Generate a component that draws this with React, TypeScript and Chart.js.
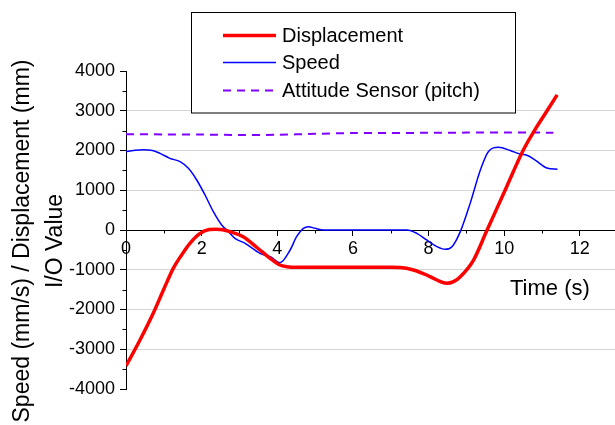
import React, { useEffect, useRef } from "react";
import { Chart, registerables } from "chart.js";

Chart.register(...registerables);

// ---- data ----
const timeDisp = [0, 0.37, 0.72, 0.99, 1.25, 1.47, 1.69, 1.96, 2.2, 2.38, 2.56, 2.75, 3.1, 3.46, 3.81, 4.07, 4.25, 4.5, 5, 6, 7, 7.25, 7.6, 7.95, 8.22, 8.48, 8.66, 8.84, 9.19, 9.53, 10.0, 10.5, 10.78, 11.1, 11.4];
const displacement = [-3420, -2767, -2096, -1509, -964, -629, -335, -84, 12, 22, 8, -42, -168, -440, -712, -880, -922, -940, -940, -940, -940, -945, -1006, -1132, -1258, -1342, -1300, -1174, -755, -40, 950, 2000, 2470, 2950, 3400];

const timeSpeed = [0, 0.2, 0.45, 0.7, 0.9, 1.16, 1.43, 1.65, 1.87, 2.09, 2.31, 2.53, 2.71, 2.88, 3.15, 3.54, 3.83, 4.07, 4.34, 4.51, 4.69, 4.82, 5.0, 5.22, 6, 7, 7.43, 7.69, 7.95, 8.22, 8.44, 8.62, 8.84, 9.1, 9.37, 9.58, 9.85, 10.16, 10.42, 10.6, 10.82, 11.13, 11.41];
const speed = [1970, 2000, 2022, 2000, 1929, 1803, 1719, 1551, 1258, 880, 461, 126, -42, -210, -335, -587, -680, -822, -503, -168, 42, 84, 42, 0, 0, 0, 0, -84, -250, -420, -486, -420, -40, 670, 1510, 1970, 2080, 2000, 1910, 1880, 1760, 1560, 1530];

const timePitch = [0, 1, 2, 3, 4, 5, 6, 7, 8, 9, 10, 11, 11.3];
const pitch = [2410, 2405, 2400, 2390, 2395, 2420, 2440, 2440, 2445, 2450, 2455, 2450, 2445];

const seriesLabels = ["Displacement", "Speed", "Attitude Sensor (pitch)"];
const xTicks = [0, 2, 4, 6, 8, 10, 12];
const xMinorTicks = [1, 3, 5, 7, 9, 11];
const yTicks = [-4000, -3000, -2000, -1000, 0, 1000, 2000, 3000, 4000];
const yMinorTicks = [-3500, -2500, -1500, -500, 500, 1500, 2500, 3500];
const gridValues = [-3000, -2000, -1000, 1000, 2000, 3000];
const yTitleLines = ["Speed (mm/s) / Displacement (mm)", "I/O Value"];
const xTitle = "Time (s)";

const FONT = '"Liberation Sans", Arial, Helvetica, sans-serif';

const pts = (xs: number[], ys: number[]) => xs.map((x, i) => ({ x, y: ys[i] }));

const overlayPlugin = {
  id: "overlay",
  beforeDraw(chart: any) {
    const { ctx, width, height } = chart;
    ctx.save();
    ctx.fillStyle = "#ffffff";
    ctx.fillRect(0, 0, width, height);
    ctx.restore();
  },
  afterDraw(chart: any) {
    const ctx = chart.ctx as CanvasRenderingContext2D;
    const xs = chart.scales.x;
    const ys = chart.scales.y;
    const left = chart.chartArea.left;
    const y0 = ys.getPixelForValue(0);
    ctx.save();
    // minor ticks
    ctx.strokeStyle = "#000";
    ctx.lineWidth = 1;
    ctx.beginPath();
    yMinorTicks.forEach((v) => {
      const py = Math.round(ys.getPixelForValue(v)) + 0.5;
      ctx.moveTo(left - 3.5, py);
      ctx.lineTo(left, py);
    });
    xMinorTicks.forEach((v) => {
      const px = Math.round(xs.getPixelForValue(v)) + 0.5;
      ctx.moveTo(px, y0);
      ctx.lineTo(px, y0 + 3.5);
    });
    ctx.stroke();

    // axis titles
    ctx.fillStyle = "#000";
    ctx.font = `23px ${FONT}`;
    ctx.textAlign = "center";
    ctx.textBaseline = "alphabetic";
    const cy = 241;
    [29, 62].forEach((bx, i) => {
      ctx.save();
      ctx.translate(bx, cy);
      ctx.rotate(-Math.PI / 2);
      ctx.fillText(yTitleLines[i], 0, 0);
      ctx.restore();
    });
    ctx.font = `22px ${FONT}`;
    ctx.textAlign = "left";
    ctx.fillText(xTitle, 510, 295);

    // legend box
    const bx = 191.5, by = 12.5, bw = 324, bh = 100.5;
    ctx.fillStyle = "#fff";
    ctx.fillRect(bx, by, bw, bh);
    ctx.strokeStyle = "#000";
    ctx.lineWidth = 1;
    ctx.strokeRect(bx, by, bw, bh);
    const rows = [35.5, 62.5, 90.5];
    ctx.font = `20px ${FONT}`;
    ctx.textBaseline = "middle";
    chart.data.datasets.forEach((ds: any, i: number) => {
      ctx.save();
      ctx.strokeStyle = ds.borderColor;
      ctx.lineWidth = ds.borderWidth;
      ctx.setLineDash(ds.borderDash || []);
      ctx.beginPath();
      ctx.moveTo(223, rows[i]);
      ctx.lineTo(276, rows[i]);
      ctx.stroke();
      ctx.restore();
      ctx.fillStyle = "#000";
      ctx.fillText(ds.label, 282, rows[i] + 1);
    });
    ctx.restore();
  },
};

export default function App() {
  const canvasRef = useRef<HTMLCanvasElement | null>(null);

  useEffect(() => {
    if (!canvasRef.current) return;
    const chart = new Chart(canvasRef.current, {
      type: "line",
      data: {
        datasets: [
          {
            label: seriesLabels[0],
            data: pts(timeDisp, displacement),
            borderColor: "#ff0000",
            borderWidth: 3.5,
            pointRadius: 0,
            cubicInterpolationMode: "monotone",
            fill: false,
          },
          {
            label: seriesLabels[1],
            data: pts(timeSpeed, speed),
            borderColor: "#0000ff",
            borderWidth: 1.5,
            pointRadius: 0,
            cubicInterpolationMode: "monotone",
            fill: false,
          },
          {
            label: seriesLabels[2],
            data: pts(timePitch, pitch),
            borderColor: "#8000ff",
            borderWidth: 2,
            borderDash: [8, 6],
            pointRadius: 0,
            tension: 0.3,
            fill: false,
          },
        ],
      } as any,
      options: {
        animation: false,
        responsive: true,
        maintainAspectRatio: false,
        layout: { padding: { top: 71, bottom: 36, left: 0, right: 0 } },
        plugins: { legend: { display: false }, tooltip: { enabled: false } },
        scales: {
          x: {
            type: "linear",
            min: 0,
            max: 12.93,
            position: { y: 0 } as any,
            afterBuildTicks: (s: any) => {
              s.ticks = xTicks.map((v) => ({ value: v }));
            },
            ticks: {
              autoSkip: false,
              maxRotation: 0,
              padding: 3,
              color: "#000",
              font: { family: FONT, size: 18 },
              callback: (v: any) => String(v),
            },
            grid: {
              drawOnChartArea: false,
              drawTicks: true,
              tickLength: 5,
              tickColor: "#000",
            },
            border: { display: true, color: "#000", width: 1 },
          },
          y: {
            type: "linear",
            min: -4000,
            max: 4000,
            afterBuildTicks: (s: any) => {
              s.ticks = yTicks.map((v) => ({ value: v }));
            },
            afterFit: (s: any) => {
              s.width = 126;
            },
            ticks: {
              autoSkip: false,
              padding: 5,
              color: "#000",
              font: { family: FONT, size: 18 },
              callback: (v: any) => String(v),
            },
            grid: {
              color: (c: any) =>
                c.tick && gridValues.includes(c.tick.value) ? "#d4d4d4" : "rgba(0,0,0,0)",
              lineWidth: 1,
              tickLength: 6,
              tickColor: "#000",
            },
            border: { display: true, color: "#000", width: 1 },
          },
        },
      } as any,
      plugins: [overlayPlugin],
    });
    return () => chart.destroy();
  }, []);

  return (
    <div
      style={{
        position: "fixed",
        left: 0,
        top: 0,
        width: 615,
        height: 425,
        background: "#fff",
      }}
    >
      <canvas ref={canvasRef} />
    </div>
  );
}
